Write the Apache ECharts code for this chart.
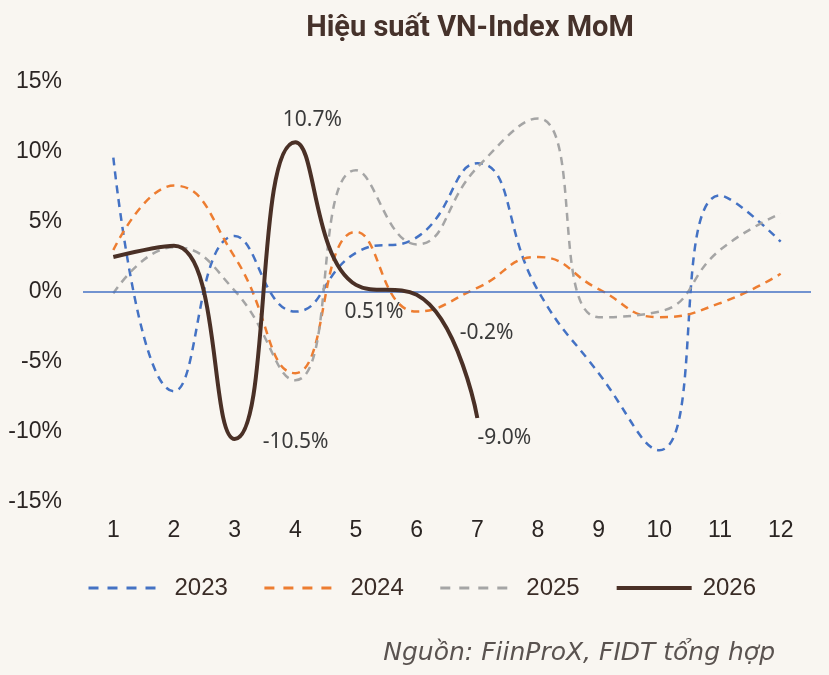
<!DOCTYPE html>
<html>
<head>
<meta charset="utf-8">
<script src="https://cdn.jsdelivr.net/npm/echarts@6/dist/echarts.min.js"></script>
<style>
  html, body { margin: 0; padding: 0; background: #f9f6f1; }
  #main { width: 829px; height: 675px; }
</style>
</head>
<body>
<div id="main"></div>
<script>
// thang trong nam
var months = ['1', '2', '3', '4', '5', '6', '7', '8', '9', '10', '11', '12'];
var yearNames = ['2023', '2024', '2025', '2026'];

// hieu suat MoM (%)
var v2023 = [9.6, -7.1, 4.0, -1.4, 2.8, 3.9, 9.2, 0.1, -5.8, -11.3, 6.9, 3.6];
var v2024 = [3.0, 7.6, 2.5, -5.8, 4.3, -1.4, 0.3, 2.5, 0.2, -1.8, -0.8, 1.3];
var v2025 = [-0.1, 3.2, 0.1, -6.3, 8.7, 3.4, 8.9, 12.4, -1.8, -1.4, 3.0, 5.6];
var v2026 = [2.5, 3.3, -10.5, 10.7, 0.51, -0.2, -9.0];

var yTicks = [-15, -10, -5, 0, 5, 10, 15];

var labelStyle = { show: true, fontSize: 21, color: '#3a3a3a', fontFamily: 'Noto Sans',
    formatter: function (p) { return p.value.toFixed(p.value === 0.51 ? 2 : 1) + '%'; } };

// nhan so lieu cua 2026, vi tri chinh tay
var labelPos = {
    2: { position: 'right', distance: 28, offset: [0, 3] },
    3: { position: 'top', distance: 12, offset: [17, 0] },
    4: { position: 'bottom', distance: 17, offset: [18, 0] },
    5: { position: 'right', distance: 43, offset: [0, 38] },
    6: { position: 'bottom', distance: 10, offset: [27, 0] }
};
var data2026 = v2026.map(function (v, i) {
    if (labelPos[i]) {
        return { value: v, label: Object.assign({}, labelStyle, labelPos[i]) };
    }
    return v;
});

function dashed(name, color, data) {
    return {
        name: name,
        type: 'line',
        data: data,
        smooth: 0.5,
        symbol: 'none',
        lineStyle: { color: color, width: 2.5, type: [8, 6] },
        itemStyle: { color: color }
    };
}

var chart = echarts.init(document.getElementById('main'));
chart.setOption({
    backgroundColor: '#f9f6f1',
    animation: false,
    title: {
        text: 'Hiệu suất VN-Index MoM',
        left: 465,
        textAlign: 'center',
        top: 9,
        textStyle: { fontSize: 29, fontWeight: 'bold', color: '#46322b', fontFamily: 'Roboto' }
    },
    grid: { left: 83, right: 18, top: 82, bottom: 173 },
    legend: {
        data: [
            { name: '2023', lineStyle: { type: [10, 9], width: 3 } },
            { name: '2024', lineStyle: { type: [10, 9], width: 3 } },
            { name: '2025', lineStyle: { type: [10, 9], width: 3 } },
            { name: '2026', lineStyle: { width: 4 } }
        ],
        top: 571,
        left: 82,
        itemWidth: 75,
        itemHeight: 28,
        itemGap: 35,
        itemStyle: { opacity: 0 },
        textStyle: { fontSize: 24, color: '#3a2c26', fontFamily: 'Liberation Sans', padding: [0, 0, 0, 6] }
    },
    xAxis: {
        type: 'category',
        data: months,
        boundaryGap: true,
        axisLine: { show: false },
        axisTick: { show: false },
        axisLabel: { fontSize: 23, color: '#2b2523', margin: 17, fontFamily: 'Liberation Sans' }
    },
    yAxis: {
        type: 'value',
        min: yTicks[0],
        max: yTicks[yTicks.length - 1],
        interval: 5,
        splitLine: { show: false },
        axisLine: { show: false },
        axisTick: { show: false },
        axisLabel: { fontSize: 23, color: '#2b2523', margin: 21, fontFamily: 'Liberation Sans', formatter: '{value}%' }
    },
    series: [
        Object.assign(dashed('2023', '#4472C4', v2023), {
            markLine: {
                silent: true,
                symbol: 'none',
                label: { show: false },
                lineStyle: { color: '#4472C4', width: 1.5, type: 'solid' },
                data: [{ yAxis: 0 }]
            }
        }),
        dashed('2024', '#ED7D31', v2024),
        dashed('2025', '#A5A5A5', v2025),
        {
            name: '2026',
            type: 'line',
            data: data2026,
            smooth: 0.5,
            symbol: 'circle',
            symbolSize: 0,
            showSymbol: true,
            z: 5,
            lineStyle: { color: '#4a3026', width: 4 },
            itemStyle: { color: '#4a3026' }
        }
    ],
    graphic: [{
        type: 'text',
        right: 54,
        top: 641,
        style: {
            text: 'Nguồn: FiinProX, FIDT tổng hợp',
            fontSize: 25,
            fontStyle: 'italic',
            fontFamily: 'DejaVu Sans',
            fill: '#5a5350'
        }
    }]
});
</script>
</body>
</html>
